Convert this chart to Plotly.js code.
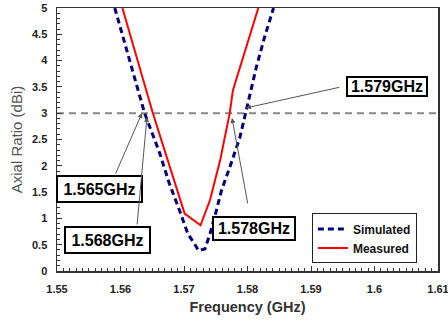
<!DOCTYPE html>
<html>
<head>
<meta charset="utf-8">
<script src="https://cdn.plot.ly/plotly-3.0.1.min.js"></script>
<style>html,body{margin:0;padding:0;background:#fff;}#chart{width:448px;height:322px;}</style>
</head>
<body>
<div id="chart"></div>
<script>
// Simulated axial ratio (dashed navy)
const simFreq = [1.5591, 1.5638, 1.5662, 1.5677, 1.5693, 1.5706, 1.5720, 1.5722, 1.5733, 1.5741, 1.5751, 1.5759, 1.5772, 1.5788, 1.5797, 1.5814, 1.5827, 1.5841];
const simAR   = [5.0, 3.0, 2.23, 1.66, 1.15, 0.71, 0.45, 0.39, 0.42, 0.71, 1.15, 1.53, 1.97, 2.54, 3.0, 3.88, 4.45, 5.0];
// Measured axial ratio (solid red)
const measFreq = [1.5603, 1.5651, 1.5701, 1.5726, 1.5741, 1.5757, 1.5772, 1.5777, 1.5817];
const measAR   = [5.0, 3.0, 1.09, 0.87, 1.35, 2.11, 3.0, 3.43, 5.0];
// 3 dB reference level
const refLevel = 3;
// Tick labels
const xTicks = [1.55, 1.56, 1.57, 1.58, 1.59, 1.6, 1.61];
const xTickText = ['1.55', '1.56', '1.57', '1.58', '1.59', '1.6', '1.61'];
const yTicks = [0, 0.5, 1, 1.5, 2, 2.5, 3, 3.5, 4, 4.5, 5];
const yTickText = ['0', '0.5', '1', '1.5', '2', '2.5', '3', '3.5', '4', '4.5', '5'];
// Marker labels
const labelTexts = ['1.565GHz', '1.568GHz', '1.578GHz', '1.579GHz'];
const labelPos = [[1.55669, 1.559], [1.55795, 0.589], [1.58098, 0.812], [1.60192, 3.508]];
const labelSize = [[83, 24], [83, 24], [80, 21], [78, 17]];
const arrowHeads = [[1.56339, 3.004], [1.56417, 2.93], [1.57756, 2.91], [1.57976, 3.10]];
const arrowTails = [[-27, 62], [-10, 109], [16, 87], [95, -21]];

const FONT = 'Liberation Sans, Arial, sans-serif';

const traces = [
  {x: simFreq, y: simAR, name: 'Simulated', type: 'scatter', mode: 'lines',
   line: {color: '#000080', width: 3, dash: '6px,4px'}},
  {x: measFreq, y: measAR, name: 'Measured', type: 'scatter', mode: 'lines',
   line: {color: '#ff0000', width: 2}}
];

const annotations = [];
labelTexts.forEach((t, i) => {
  annotations.push({
    x: labelPos[i][0], y: labelPos[i][1], xref: 'x', yref: 'y',
    text: t, showarrow: false,
    width: labelSize[i][0], height: labelSize[i][1],
    bgcolor: '#ffffff', bordercolor: '#000000', borderwidth: 2, borderpad: 0,
    font: {family: FONT, size: 16, color: '#000', weight: 'bold'}
  });
  annotations.push({
    x: arrowHeads[i][0], y: arrowHeads[i][1], xref: 'x', yref: 'y',
    ax: arrowTails[i][0], ay: arrowTails[i][1],
    text: '', showarrow: true, arrowhead: 2, arrowsize: 1, arrowwidth: 1,
    arrowcolor: '#555555', standoff: 0, startstandoff: 0
  });
});

const layout = {
  width: 448, height: 322,
  margin: {l: 57, r: 10, t: 8, b: 51, pad: 0},
  paper_bgcolor: '#ffffff', plot_bgcolor: '#ffffff',
  showlegend: true,
  legend: {
    x: 0.669, y: 0.124, xanchor: 'left', yanchor: 'middle',
    bordercolor: '#222', borderwidth: 1, bgcolor: '#fff',
    font: {family: FONT, size: 12, color: '#111', weight: 'bold'},
    itemwidth: 30, tracegroupgap: 0
  },
  xaxis: {
    range: [1.55, 1.61], tickmode: 'array', tickvals: xTicks, ticktext: xTickText,
    ticks: 'inside', ticklen: 5, tickwidth: 1, tickcolor: '#333',
    minor: {dtick: 0.001, ticks: 'inside', ticklen: 3, tickcolor: '#333', showgrid: false},
    showline: true, linecolor: '#333', linewidth: 1.5, mirror: true,
    showgrid: false, zeroline: false, ticklabelstandoff: 7, ticklabeloverflow: 'allow',
    tickfont: {family: FONT, size: 11, color: '#222', weight: 'bold'},
    title: {text: 'Frequency (GHz)', font: {family: FONT, size: 14.5, color: '#333', weight: 'bold'}, standoff: 8}
  },
  yaxis: {
    range: [0, 5], tickmode: 'array', tickvals: yTicks, ticktext: yTickText,
    ticks: 'inside', ticklen: 5, tickwidth: 1, tickcolor: '#333',
    minor: {dtick: 0.1, ticks: 'inside', ticklen: 3, tickcolor: '#333', showgrid: false},
    showline: true, linecolor: '#333', linewidth: 1.5, mirror: true,
    showgrid: false, zeroline: false, ticklabelstandoff: 6, ticklabeloverflow: 'allow',
    tickfont: {family: FONT, size: 11, color: '#222', weight: 'bold'},
    title: {text: 'Axial Ratio (dBi)', font: {family: FONT, size: 15, color: '#555'}, standoff: 6}
  },
  shapes: [{
    type: 'line', xref: 'paper', x0: 0, x1: 1, yref: 'y', y0: refLevel, y1: refLevel,
    line: {color: '#888888', width: 2, dash: '7px,5px'}, layer: 'below'
  }],
  annotations: annotations
};

Plotly.newPlot('chart', traces, layout, {displayModeBar: false, staticPlot: true});
</script>
</body>
</html>
